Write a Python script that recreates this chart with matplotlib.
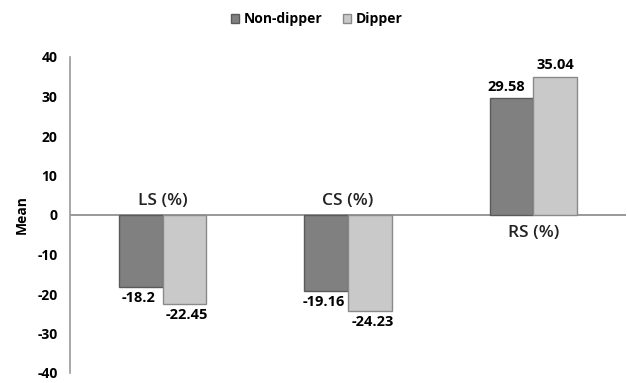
import numpy as np
import matplotlib.pyplot as plt

categories = ["LS (%)", "CS (%)", "RS (%)"]
non_dipper = [-18.2, -19.16, 29.58]
dipper = [-22.45, -24.23, 35.04]
series_names = ["Non-dipper", "Dipper"]

plt.rcParams['font.family'] = ['Open Sans', 'DejaVu Sans']
plt.rcParams['axes.unicode_minus'] = False

fig = plt.figure(figsize=(6.27, 3.83), dpi=100)
ax = fig.add_axes([70 / 627, 1 - 373 / 383, 556 / 627, (373 - 57) / 383])

x = np.arange(len(categories))
w = 0.235
c_dark, c_light = "#808080", "#c9c9c9"
b1 = ax.bar(x - w / 2, non_dipper, w, color=c_dark, edgecolor="#5a5a5a",
            linewidth=1.0, label=series_names[0])
b2 = ax.bar(x + w / 2, dipper, w, color=c_light, edgecolor="#8a8a8a",
            linewidth=1.0, label=series_names[1])

for bars, vals in ((b1, non_dipper), (b2, dipper)):
    for b, v in zip(bars, vals):
        cx = b.get_x() + b.get_width() / 2
        if v < 0:
            ax.annotate(f"{v:g}", (cx, v), xytext=(-2 if bars is b1 else 2, -3),
                        textcoords="offset points",
                        ha="center", va="top", fontsize=10.5, fontweight="bold")
        else:
            ax.annotate(f"{v:g}", (cx, v), xytext=(-4 if bars is b1 else 0, 3),
                        textcoords="offset points",
                        ha="center", va="bottom", fontsize=10.5, fontweight="bold")

for i, cat in enumerate(categories):
    neg = non_dipper[i] < 0
    ax.annotate(cat, (i, 0), xytext=(0, 4 if neg else -7), textcoords="offset points",
                ha="center", va="bottom" if neg else "top", fontsize=12.5,
                fontweight="semibold", color="#222222")

ax.set_xlim(-0.5, 2.5)
ax.set_ylim(-40, 40)
ax.set_yticks(range(-40, 41, 10))
ax.set_xticks([])
ax.tick_params(axis="y", length=0, labelsize=10, pad=9)
for lbl in ax.get_yticklabels():
    lbl.set_fontweight("bold")
ax.set_ylabel("Mean", fontsize=10, fontweight="bold", labelpad=6)

for s in ("top", "right", "bottom"):
    ax.spines[s].set_visible(False)
ax.spines["left"].set_color("#999999")
ax.spines["left"].set_linewidth(1.2)
ax.axhline(0, color="#888888", linewidth=1.2, zorder=0)

leg = fig.legend(loc="upper center", bbox_to_anchor=(0.505, 1.0), ncol=2, frameon=False,
                 prop={"weight": "bold", "size": 10}, handlelength=0.6, handleheight=0.6,
                 handletextpad=0.3, columnspacing=1.5)

fig.savefig("out.png", dpi=100)
